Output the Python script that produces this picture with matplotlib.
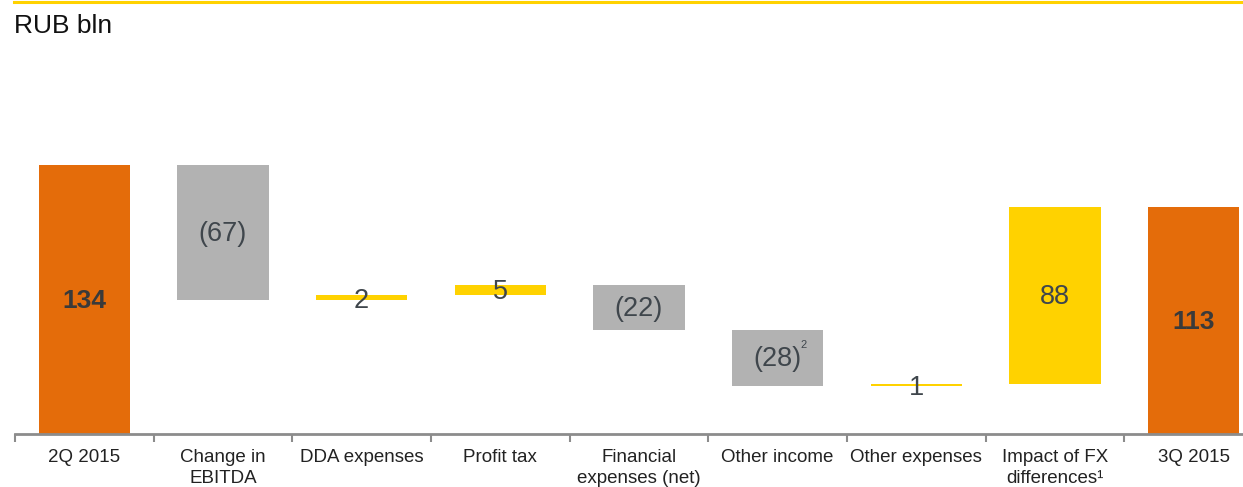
import numpy as np
import matplotlib.pyplot as plt
from matplotlib.lines import Line2D

plt.rcParams['font.family'] = ['Liberation Sans', 'DejaVu Sans']

categories = ['2Q 2015', 'Change in\nEBITDA', 'DDA expenses', 'Profit tax',
              'Financial\nexpenses (net)', 'Other income', 'Other expenses',
              'Impact of FX\ndifferences\u00b9', '3Q 2015']
start_value = 134
changes = [-67, 2, 5, -22, -28, 1, 88]
end_value = 113
labels = ['134', '(67)', '2', '5', '(22)', '(28)', '1', '88', '113']

orange = '#E46C0A'
gray = '#B2B2B2'
yellow = '#FFD200'
text_col = '#3F464C'

# waterfall geometry from the data
bottoms = [0]
heights = [start_value]
colors = [orange]
level = start_value
for c in changes:
    bottoms.append(min(level, level + c))
    heights.append(abs(c))
    colors.append(yellow if c > 0 else gray)
    level += c
bottoms.append(0)
heights.append(end_value)
colors.append(orange)

W, H = 1243, 487
fig = plt.figure(figsize=(W / 100, H / 100), dpi=100)
px_per_unit = (434 - 165) / 134
ax_bottom = H - 434
ax_top = H - 60
ax = fig.add_axes([15 / W, ax_bottom / H, 1248 / W, (ax_top - ax_bottom) / H])

x = np.arange(len(categories))
ax.bar(x, heights, bottom=bottoms, width=0.66, color=colors, linewidth=0)
ax.set_xlim(-0.5, len(categories) - 0.5)
ax.set_ylim(0, (ax_top - ax_bottom) / px_per_unit)

for i, (b, h, lab) in enumerate(zip(bottoms, heights, labels)):
    bold = i in (0, len(categories) - 1)
    dy = -1.8 if h < 3 else -0.8
    ax.text(i, b + h / 2 + dy, lab, ha='center', va='center',
            fontsize=19 if bold else 19.5,
            color='#3A3A3A' if bold else text_col,
            fontweight='bold' if bold else 'normal')

# footnote marker on Other income
ax.annotate('2', xy=(5, bottoms[5] + heights[5] / 2), xytext=(19, 9),
            textcoords='offset points', fontsize=8, color=text_col,
            ha='center', va='center')

for s in ['top', 'right', 'left']:
    ax.spines[s].set_visible(False)
ax.spines['bottom'].set_color('#8C8C8C')
ax.spines['bottom'].set_linewidth(2)
ax.set_yticks([])
ax.set_xticks(x)
ax.set_xticklabels(categories, fontsize=13.5, color='#222222', linespacing=1.3)
ax.tick_params(axis='x', which='major', length=0, pad=11)
ax.set_xticks(np.arange(-0.5, len(categories), 1), minor=True)
ax.tick_params(axis='x', which='minor', length=6, width=1.5, color='#8C8C8C', direction='out')

fig.text(14 / W, 1 - 26 / H, 'RUB bln', fontsize=19, color='#111111', va='center', ha='left')
fig.add_artist(Line2D([14 / W, 1], [1 - 1.5 / H, 1 - 1.5 / H], color=yellow, linewidth=2.2,
                      transform=fig.transFigure))

fig.savefig('out.png', dpi=100)
